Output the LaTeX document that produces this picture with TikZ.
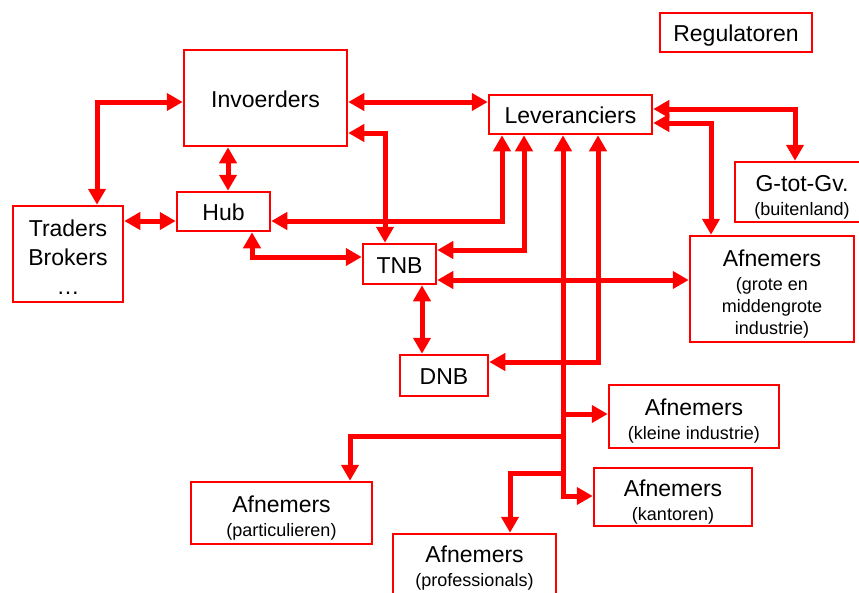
\documentclass[tikz,border=0pt]{standalone}
\usepackage{fontspec}
\setmainfont{Liberation Sans}
\usetikzlibrary{arrows.meta}
\newcommand\bigf{\fontsize{23}{27}\selectfont}
\newcommand\subf{\fontsize{18}{21}\selectfont}
\newcommand\tp{\rule{0pt}{22.5pt}}
\tikzset{
  rtip/.tip={Triangle[length=16pt,width=17pt]},
  box/.style={draw=red, line width=2.5pt, rectangle, inner sep=0pt, align=center, font=\bigf, text=black},
  onebox/.style={box, text height=18.5pt, text depth=0pt},
  multibox/.style={box, text depth=-5pt},
  lnk/.style={draw=red, line width=5pt},
  both/.style={lnk, rtip-rtip},
  one/.style={lnk, -rtip}
}
\begin{document}
\begin{tikzpicture}[x=1pt,y=-1pt]
\clip (0,0) rectangle (859,592);
\fill[white] (0,0) rectangle (859,592);
% boxes
\node[onebox, minimum width=152, minimum height=39] (reg) at (736,32.5) {Regulatoren};
\node[onebox, minimum width=163, minimum height=96] (inv) at (265.5,98) {Invoerders};
\node[onebox, minimum width=163, minimum height=39] (lev) at (570.5,114.5) {Leveranciers};
\node[onebox, minimum width=93, minimum height=39] (hub) at (223.5,211.5) {Hub};
\node[multibox, minimum width=110, minimum height=96] (trad) at (68,254) {\tp Traders\\[2pt]Brokers\\[2pt]…};
\node[onebox, minimum width=73, minimum height=40] (tnb) at (399.5,264) {TNB};
\node[multibox, minimum width=134, minimum height=60] (gtg) at (802,192) {\tp G-tot-Gv.\\[-3pt]{\subf (buitenland)}};
\node[multibox, minimum width=164, minimum height=106] (afg) at (772,289) {\tp Afnemers\\[-3pt]{\subf (grote en}\\[-5pt]{\subf middengrote}\\[-5pt]{\subf industrie)}};
\node[onebox, minimum width=88, minimum height=41] (dnb) at (444,375.5) {DNB};
\node[multibox, minimum width=170, minimum height=63] (kle) at (694,416.5) {\tp Afnemers\\[-3pt]{\subf (kleine industrie)}};
\node[multibox, minimum width=158, minimum height=58] (kan) at (673,497) {\tp Afnemers\\[-3pt]{\subf (kantoren)}};
\node[multibox, minimum width=181, minimum height=62] (par) at (281.5,513) {\tp Afnemers\\[-3pt]{\subf (particulieren)}};
\node[multibox, minimum width=163, minimum height=64] (pro) at (474.5,566) {Afnemers\\[-3pt]{\subf (professionals)}};
% connectors
\draw[both] (inv.west |- 0,102) -- (97,102) -- (trad.north -| 97,0);
\draw[both] (inv.east |- 0,102) -- (lev.west |- 0,102);
\draw[both] (inv.east |- 0,133) -- (385,133) -- (tnb.north -| 385,0);
\draw[both] (inv.south -| 228,0) -- (hub.north -| 228,0);
\draw[both] (trad.east |- 0,221) -- (hub.west |- 0,221);
\draw[both] (hub.east |- 0,221) -- (502,221) -- (lev.south -| 502,0);
\draw[both] (hub.south -| 252,0) -- (252,257) -- (tnb.west |- 0,257);
\draw[both] (tnb.east |- 0,250) -- (524,250) -- (lev.south -| 524,0);
\draw[both] (tnb.east |- 0,280) -- (afg.west |- 0,280);
\draw[both] (tnb.south -| 422,0) -- (dnb.north -| 422,0);
\draw[both] (lev.south -| 598,0) -- (598,362) -- (dnb.east |- 0,362);
\draw[both] (lev.east |- 0,109) -- (795,109) -- (gtg.north -| 795,0);
\draw[both] (lev.east |- 0,123) -- (711,123) -- (afg.north -| 711,0);
% trunk
\coordinate (bk) at (563,414);
\coordinate (bp) at (563,436);
\coordinate (bq) at (563,473);
\draw[both] (lev.south -| 563,0) -- (563,496) -- (kan.west |- 0,496);
\draw[one] ([xshift=-2.5pt]bk) -- (kle.west |- bk);
\draw[one] ([xshift=2.5pt]bp) -- (350,436) -- (par.north -| 350,0);
\draw[one] ([xshift=2.5pt]bq) -- (510,473) -- (pro.north -| 510,0);
\end{tikzpicture}
\end{document}
